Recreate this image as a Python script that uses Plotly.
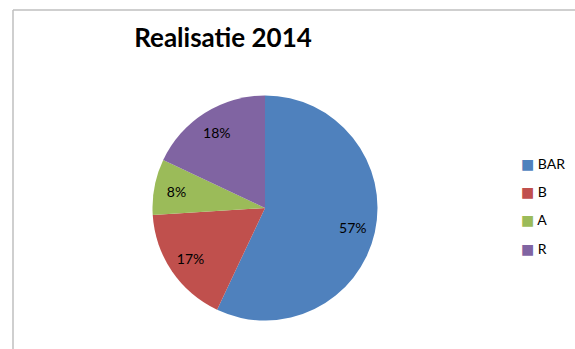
import plotly.graph_objects as go

labels = ["BAR", "B", "A", "R"]
values = [57, 17, 8, 18]
colors = ["#4F81BD", "#C0504D", "#9BBB59", "#8064A2"]

W, H = 575, 349
CX, CY, R = 265, 208, 112.5
dom = dict(x=[(CX - R) / W, (CX + R) / W], y=[1 - (CY + R) / H, 1 - (CY - R) / H])

fig = go.Figure()
# filled pie
fig.add_trace(go.Pie(
    labels=labels, values=values, sort=False, direction="clockwise", rotation=0,
    marker=dict(colors=colors, line=dict(width=0)),
    textinfo="none", showlegend=False, hoverinfo="label+percent", domain=dom,
))
# transparent ring carrying the percentage labels at ~0.8 R
fig.add_trace(go.Pie(
    labels=labels, values=values, sort=False, direction="clockwise", rotation=0, hole=0.6,
    marker=dict(colors=["rgba(0,0,0,0)"] * len(labels), line=dict(width=0)),
    texttemplate="%{percent:.0%}", textposition="inside", insidetextorientation="horizontal",
    textfont=dict(family="Lato", size=14, color="black"),
    showlegend=False, hoverinfo="skip", domain=dom,
))
for lab, col in zip(labels, colors):
    fig.add_trace(go.Scatter(
        x=[None], y=[None], mode="markers", legendgroup=lab,
        name=f"<span style='color:{col};font-family:DejaVu Sans'>■</span> {lab}",
        marker=dict(symbol="square", size=8, color="rgba(0,0,0,0)"), showlegend=True,
    ))

fig.update_layout(
    width=W, height=H, margin=dict(l=0, r=0, t=0, b=0, autoexpand=False),
    paper_bgcolor="white", plot_bgcolor="white",
    xaxis=dict(visible=False), yaxis=dict(visible=False),
    title=dict(text="<b>Realisatie 2014</b>", x=223 / W, xanchor="center", y=1 - 38 / H, yanchor="middle",
               font=dict(family="Lato", size=26, color="black")),
    legend=dict(x=481 / W, y=1 - 148 / H, xanchor="left", yanchor="top", tracegroupgap=7,
                font=dict(family="Lato", size=14, color="black"), itemwidth=30, bgcolor="rgba(0,0,0,0)"),
    shapes=[
        dict(type="line", xref="paper", yref="paper", x0=13 / W, x1=1.01, y0=1 - 10 / H, y1=1 - 10 / H,
             line=dict(color="#BFBFBF", width=1.5)),
        dict(type="line", xref="paper", yref="paper", x0=13 / W, x1=13 / W, y0=1 - 10 / H, y1=-0.01,
             line=dict(color="#BFBFBF", width=1.5)),
    ],
)
fig.write_html("out.html")
